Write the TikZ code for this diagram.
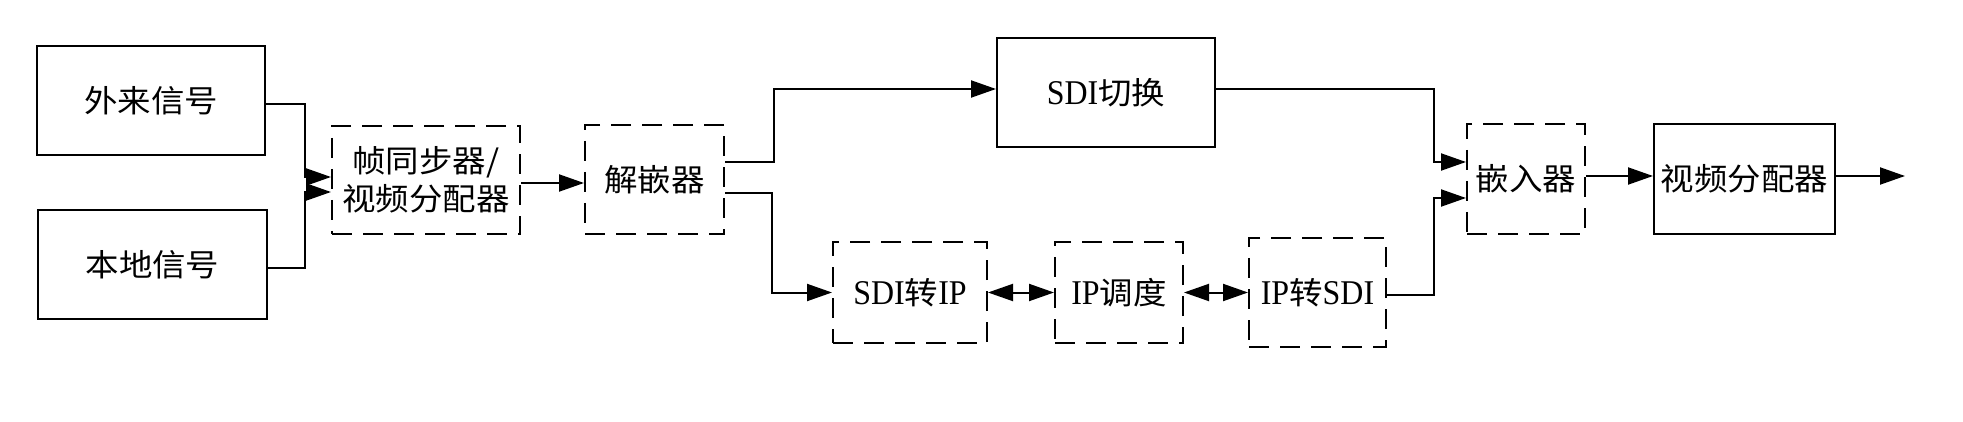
\documentclass[tikz,border=0pt]{standalone}
\usepackage{fontspec}
\setmainfont{Noto Sans CJK SC}[FakeStretch=1.08]
\newfontfamily\lat{Liberation Serif}[Scale=1.12,FakeStretch=0.92]
\usetikzlibrary{arrows.meta,calc}
\begin{document}
\begin{tikzpicture}[x=1pt,y=-1pt,
  box/.style={draw,line width=2pt,inner sep=0pt,align=center,font=\fontsize{31}{38}\selectfont},
  dbox/.style={box,dash pattern=on 20pt off 11pt},
  arr/.style={line width=2pt,-{Triangle[length=25pt,width=17pt]}},
  darr/.style={line width=2pt,{Triangle[length=25pt,width=17pt]}-{Triangle[length=25pt,width=17pt]}}]
\useasboundingbox (0,0) rectangle (1963,422);
\node[box,minimum width=228pt,minimum height=109pt] (wl) at (151,100.5) {外来信号};
\node[box,minimum width=229pt,minimum height=109pt] (bd) at (152.5,264.5) {本地信号};
\node[dbox,minimum width=188pt,minimum height=108pt] (fs) at (426,180) {帧同步器/\\视频分配器};
\node[dbox,minimum width=139pt,minimum height=109pt] (jq) at (654.5,179.5) {解嵌器};
\node[box,minimum width=218pt,minimum height=109pt] (sw) at (1106,92.5) {{\lat SDI}切换};
\node[dbox,minimum width=154pt,minimum height=101pt] (s2i) at (910,292.5) {{\lat SDI}转{\lat IP}};
\node[dbox,minimum width=128pt,minimum height=101pt] (ipd) at (1119,292.5) {{\lat IP}调度};
\node[dbox,minimum width=137pt,minimum height=109pt] (i2s) at (1317.5,292.5) {{\lat IP}转{\lat SDI}};
\node[dbox,minimum width=118pt,minimum height=110pt] (qr) at (1526,179) {嵌入器};
\node[box,minimum width=181pt,minimum height=110pt] (vd) at (1744.5,179) {视频分配器};
\coordinate (out) at (1905,176);
\draw[arr] ($(wl.east)+(0,3.5)$) -- ++(39,0) |- ($(fs.west)+(0,-3)$);
\draw[arr] ($(bd.east)+(0,3.5)$) -- ++(37,0) |- ($(fs.west)+(0,12)$);
\draw[arr] ($(fs.east)+(0,3)$) -- ($(jq.west)+(0,3.5)$);
\draw[arr] ($(jq.east)+(0,-17.5)$) -- ++(49,0) |- ($(sw.west)+(0,-3.5)$);
\draw[arr] ($(jq.east)+(0,13.5)$) -- ++(47,0) |- (s2i.west);
\draw[darr] (s2i.east) -- (ipd.west);
\draw[darr] (ipd.east) -- (i2s.west);
\draw[arr] ($(i2s.east)+(0,2.5)$) -- ++(47,0) |- ($(qr.west)+(0,19)$);
\draw[arr] ($(sw.east)+(0,-3.5)$) -- ++(218,0) |- ($(qr.west)+(0,-17)$);
\draw[arr] ($(qr.east)+(0,-3)$) -- ($(vd.west)+(0,-3)$);
\draw[arr] ($(vd.east)+(0,-3)$) -- (out);
\end{tikzpicture}
\end{document}
